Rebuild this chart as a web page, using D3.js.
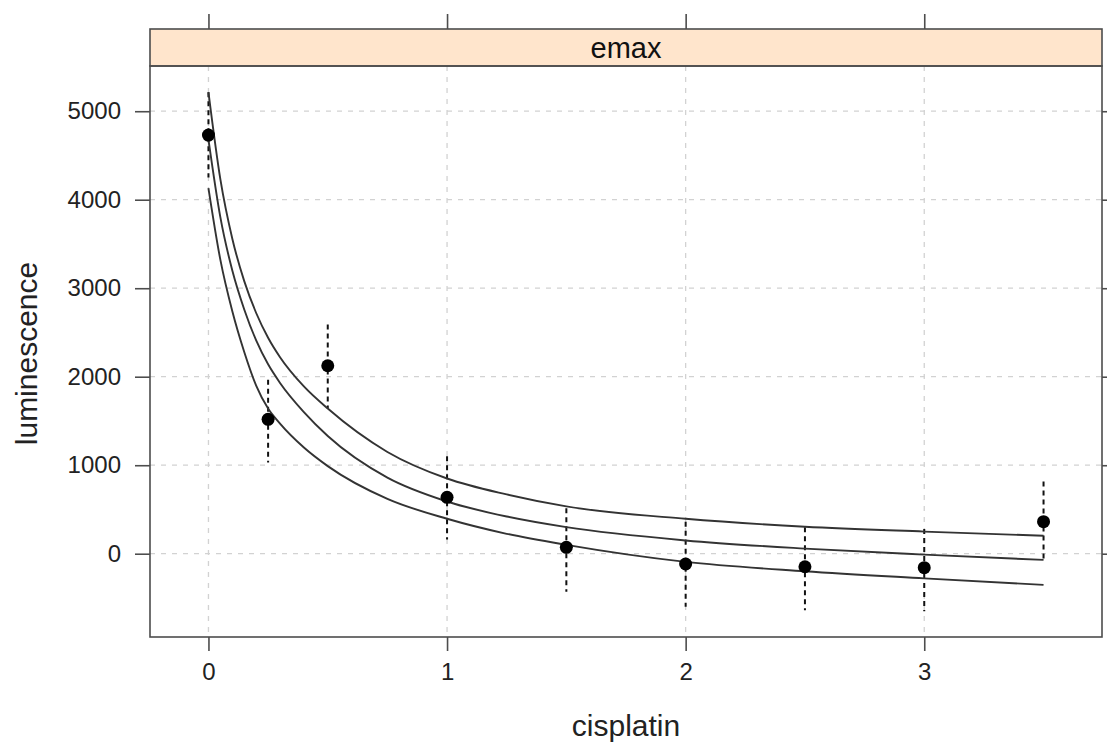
<!DOCTYPE html>
<html>
<head>
<meta charset="utf-8">
<script src="https://cdn.jsdelivr.net/npm/d3@7"></script>
<style>
  body { margin: 0; background: #fff; }
  svg { display: block; font-family: "Liberation Sans", Arial, sans-serif; }
</style>
</head>
<body>
<svg id="chart" width="1107" height="744"></svg>
<script>
// observed means with their error bars
const doses = [0, 0.25, 0.5, 1, 1.5, 2, 2.5, 3, 3.5];
const means = [4731, 1519, 2124, 637, 72, -116, -147, -158, 362];
const barLo = [4250, 1030, 1640, 160, -430, -600, -640, -650, -100];
const barHi = [5215, 1965, 2590, 1100, 515, 360, 300, 280, 815];

// fitted emax curve and its band
const curveDose = [0, 0.05, 0.1, 0.15, 0.2, 0.25, 0.3, 0.4, 0.5, 0.75, 1, 1.25, 1.5, 2, 2.5, 3, 3.5];
const upperBand = [5215, 4230, 3560, 3080, 2720, 2440, 2220, 1890, 1640, 1150, 850, 670, 535, 395, 305, 250, 203];
const fitMid    = [4680, 3800, 3200, 2760, 2410, 2140, 1930, 1600, 1330, 860, 590, 420, 300, 150, 58, -10, -70];
const lowerBand = [4130, 3320, 2740, 2280, 1900, 1640, 1470, 1200, 990, 620, 395, 225, 100, -92, -198, -278, -352];

const xTicks = [0, 1, 2, 3];
const yTicks = [0, 1000, 2000, 3000, 4000, 5000];
const panelName = 'emax';

const pLeft = 150, pRight = 1102, pTop = 66, pBottom = 637, stripTop = 29;

const svg = d3.select('#chart');

const x = d3.scaleLinear().domain([-0.245, 3.745]).range([pLeft, pRight]);
const y = d3.scaleLinear().domain([-941, 5511]).range([pBottom, pTop]);

// grid
svg.append('g')
    .selectAll('line')
    .data(xTicks)
    .enter().append('line')
    .attr('x1', d => x(d)).attr('x2', d => x(d))
    .attr('y1', pTop).attr('y2', pBottom)
    .attr('stroke', '#d2d2d2').attr('stroke-width', 1.3)
    .attr('stroke-dasharray', '5,6');

svg.append('g')
    .selectAll('line')
    .data(yTicks)
    .enter().append('line')
    .attr('x1', pLeft).attr('x2', pRight)
    .attr('y1', d => y(d)).attr('y2', d => y(d))
    .attr('stroke', '#d2d2d2').attr('stroke-width', 1.3)
    .attr('stroke-dasharray', '5,6');

// error bars
svg.append('g')
    .selectAll('line')
    .data(doses)
    .enter().append('line')
    .attr('x1', d => x(d)).attr('x2', d => x(d))
    .attr('y1', (d, i) => y(barHi[i]))
    .attr('y2', (d, i) => y(barLo[i]))
    .attr('stroke', '#111').attr('stroke-width', 2)
    .attr('stroke-dasharray', '5,4');

// curves
const line = d3.line()
    .x((d, i) => x(curveDose[i]))
    .y(d => y(d))
    .curve(d3.curveMonotoneX);

[upperBand, fitMid, lowerBand].forEach(s => {
    svg.append('path')
        .attr('d', line(s))
        .attr('fill', 'none')
        .attr('stroke', '#333')
        .attr('stroke-width', 1.9);
});

// points
svg.append('g')
    .selectAll('circle')
    .data(doses)
    .enter().append('circle')
    .attr('cx', d => x(d))
    .attr('cy', (d, i) => y(means[i]))
    .attr('r', 6.5)
    .attr('fill', '#000');

// strip
svg.append('rect')
    .attr('x', pLeft).attr('y', stripTop)
    .attr('width', pRight - pLeft).attr('height', pTop - stripTop)
    .attr('fill', '#ffe5cc')
    .attr('stroke', '#4d4d4d').attr('stroke-width', 1.6);

svg.append('text')
    .attr('x', (pLeft + pRight) / 2).attr('y', (stripTop + pTop) / 2)
    .attr('dy', '0.35em')
    .attr('text-anchor', 'middle')
    .attr('font-size', 29)
    .attr('fill', '#111')
    .text(panelName);

// panel border
svg.append('rect')
    .attr('x', pLeft).attr('y', pTop)
    .attr('width', pRight - pLeft).attr('height', pBottom - pTop)
    .attr('fill', 'none')
    .attr('stroke', '#4d4d4d').attr('stroke-width', 1.6);

// axes (lattice style: ticks on all sides, labels left and bottom)
const axB = svg.append('g').attr('transform', `translate(0,${pBottom})`)
    .call(d3.axisBottom(x).tickValues(xTicks).tickSize(14).tickPadding(12).tickFormat(d3.format('d')));
const axL = svg.append('g').attr('transform', `translate(${pLeft},0)`)
    .call(d3.axisLeft(y).tickValues(yTicks).tickSize(15).tickPadding(14).tickFormat(d3.format('d')));
const axT = svg.append('g').attr('transform', `translate(0,${stripTop})`)
    .call(d3.axisTop(x).tickValues(xTicks).tickSize(15).tickFormat(''));
const axR = svg.append('g').attr('transform', `translate(${pRight},0)`)
    .call(d3.axisRight(y).tickValues(yTicks).tickSize(15).tickFormat(''));

[axB, axL, axT, axR].forEach(a => {
    a.select('.domain').remove();
    a.selectAll('.tick line').attr('stroke', '#4d4d4d').attr('stroke-width', 1.6);
    a.selectAll('.tick text')
        .attr('fill', '#222')
        .attr('font-size', 24)
        .attr('font-family', '"Liberation Sans", Arial, sans-serif');
});

// axis titles
svg.append('text')
    .attr('x', (pLeft + pRight) / 2).attr('y', 736)
    .attr('text-anchor', 'middle')
    .attr('font-size', 30)
    .attr('fill', '#222')
    .text('cisplatin');

svg.append('text')
    .attr('transform', `translate(37,${(pTop + pBottom) / 2 + 2}) rotate(-90)`)
    .attr('text-anchor', 'middle')
    .attr('font-size', 30)
    .attr('fill', '#222')
    .text('luminescence');
</script>
</body>
</html>
